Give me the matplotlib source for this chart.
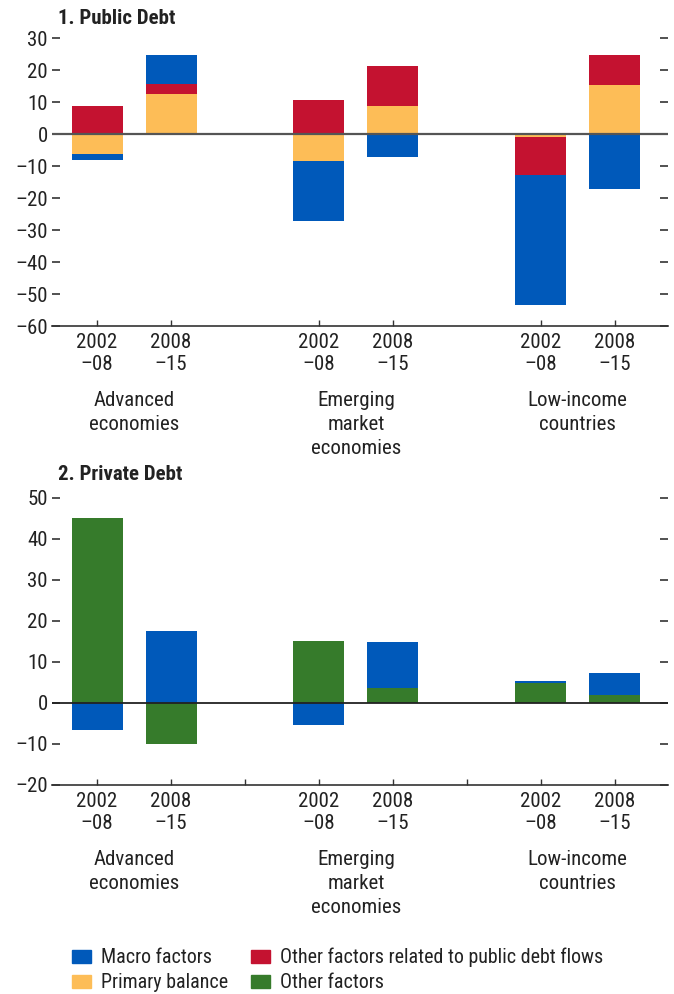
import matplotlib
matplotlib.use("Agg")
import matplotlib.pyplot as plt
from matplotlib.patches import Patch

plt.rcParams['font.family'] = ['Roboto Condensed', 'DejaVu Sans']

# ---------------- data ----------------
periods = ["2002\n–08", "2008\n–15", "2002\n–08", "2008\n–15", "2002\n–08", "2008\n–15"]
groups = ["Advanced\neconomies", "Emerging\nmarket\neconomies", "Low-income\ncountries"]
positions = [0, 1, 3, 4, 6, 7]
group_centers = [0.5, 3.5, 6.5]
separators = [2, 5]

# Panel 1: Public debt
pub_primary = [-6.4, 12.6, -8.3, 8.9, -1.0, 15.2]
pub_other = [8.9, 2.9, 10.5, 12.5, -11.7, 9.6]
pub_macro = [-1.6, 9.3, -18.9, -7.2, -40.8, -17.3]

# Panel 2: Private debt
priv_other = [45.1, -10.1, 15.2, 3.7, 4.9, 1.85]
priv_macro = [-6.7, 17.6, -5.5, 11.2, 0.35, 5.5]

C_BLUE = "#0059BA"
C_YEL = "#FDBD57"
C_RED = "#C41230"
C_GREEN = "#367B2B"

W, H = 674, 994
fig = plt.figure(figsize=(W / 100, H / 100), dpi=100)

ax1 = fig.add_axes([52 / W, 1 - 326 / H, 616 / W, 288 / H])
ax2 = fig.add_axes([52 / W, 1 - 785 / H, 616 / W, 287.3 / H])


def stack(ax, series, colors):
    pos_base = [0.0] * len(positions)
    neg_base = [0.0] * len(positions)
    for vals, col in zip(series, colors):
        bottoms = []
        for i, v in enumerate(vals):
            if v >= 0:
                bottoms.append(pos_base[i])
                pos_base[i] += v
            else:
                bottoms.append(neg_base[i])
                neg_base[i] += v
        ax.bar(positions, vals, bottom=bottoms, width=0.69, color=col,
               linewidth=0, zorder=2)


stack(ax1, [pub_primary, pub_other, pub_macro], [C_YEL, C_RED, C_BLUE])
stack(ax2, [priv_other, priv_macro], [C_GREEN, C_BLUE])

FS = 15


def style(ax, ylim, yticks, zcolor, zlw, sep):
    ax.set_xlim(-0.61, 7.72)
    ax.set_ylim(*ylim)
    ax.set_yticks(yticks)
    ax.set_yticklabels([str(t).replace('-', '–') for t in yticks], fontsize=FS,
                       color="#222222")
    ax.tick_params(axis='y', direction='in', length=6, width=1.2,
                   color="#333333", left=True, right=True, pad=3)
    for s in ['top', 'left', 'right']:
        ax.spines[s].set_visible(False)
    ax.spines['bottom'].set_color("#333333")
    ax.spines['bottom'].set_linewidth(1.2)
    ax.set_xticks(positions)
    ax.set_xticklabels(periods, fontsize=FS, color="#222222", linespacing=1.22)
    ax.tick_params(axis='x', direction='in', length=4, width=1.0,
                   color="#333333", pad=5)
    if sep:
        ax.set_xticks(separators, minor=True)
        ax.tick_params(axis='x', which='minor', direction='in', length=4,
                       width=1.0, color="#333333")
    ax.axhline(0, color=zcolor, lw=zlw, zorder=3)
    for gc, gl in zip(group_centers, groups):
        ax.annotate(gl, xy=(gc, 0), xycoords=('data', 'axes fraction'),
                    xytext=(0, -65), textcoords='offset pixels',
                    ha='center', va='top', fontsize=FS, color="#222222",
                    linespacing=1.32)


style(ax1, (-60, 30), list(range(-60, 31, 10)), "#555555", 1.6, False)
style(ax2, (-20, 50), list(range(-20, 51, 10)), "#222222", 1.3, True)

fig.text(58 / W, 1 - 18 / H, "1. Public Debt", fontsize=15, fontweight='bold',
         va='center', ha='left', color="#222222")
fig.text(58 / W, 1 - 474 / H, "2. Private Debt", fontsize=15, fontweight='bold',
         va='center', ha='left', color="#222222")

handles = [Patch(color=C_BLUE), Patch(color=C_YEL), Patch(color=C_RED),
           Patch(color=C_GREEN)]
labels = ["Macro factors", "Primary balance",
          "Other factors related to public debt flows", "Other factors"]
fig.legend(handles, labels, ncol=2, loc='center left',
           bbox_to_anchor=(72 / W, 1 - 970 / H), frameon=False, fontsize=14.4,
           handlelength=0.95, handleheight=0.65, handletextpad=0.5,
           columnspacing=1.15, labelspacing=0.3, borderpad=0, borderaxespad=0,
           labelcolor="#222222")

fig.savefig("out.png", dpi=100)
